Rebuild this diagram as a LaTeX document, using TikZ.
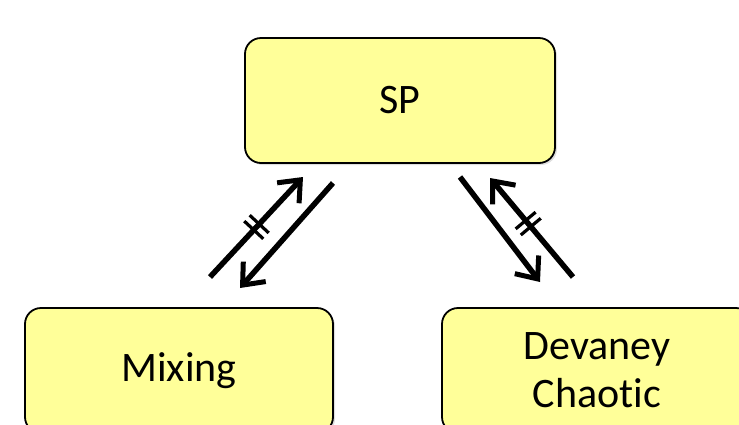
\documentclass[tikz,border=0pt]{standalone}
\usepackage{fontspec}
\setmainfont{Carlito}[Ligatures=NoCommon]
\definecolor{boxfill}{RGB}{255, 255, 153}
\usetikzlibrary{arrows.meta, decorations.markings, shadows}
\tikzset{
    notion/.style={draw, line width=1.8pt, fill=boxfill, rounded corners=16pt,
        minimum width=310pt, minimum height=125pt, align=center,
        font=\fontsize{42}{48}\selectfont,
        drop shadow={opacity=.25, shadow xshift=2pt, shadow yshift=-2pt}},
    implies/.style={line width=5.5pt,
        -{Straight Barb[length=18pt, width=30pt, line width=5pt]}},
    notimplies/.style={implies, postaction={decorate, decoration={markings,
        mark=at position #1 with {\draw[-, line width=3.2pt]
            (-4pt, -13pt) -- (-4pt, 13pt) (4pt, -13pt) -- (4pt, 13pt);}}}},
    notimplies/.default=.55,
}

\begin{document}
\begin{tikzpicture}[x=1pt, y=-1pt]
        \useasboundingbox (0, 0) rectangle (739, 424);
        \clip (0, 0) rectangle (739, 424);
        \node[notion] (sp) at (400, 100.5) {SP};
        \node[notion, minimum width=308pt] (mixing) at (179, 370.5) {Mixing};
        \node[notion] (devaney) at (597, 370.5) {Devaney\\Chaotic};
        % end points of the arrows
        \coordinate (mixtail) at (210, 277);
        \coordinate (mixtip) at (303, 177);
        \coordinate (sptail) at (333, 183);
        \coordinate (sptip) at (240, 288);
        \coordinate (spdtail) at (460, 177);
        \coordinate (spdtip) at (540, 282);
        \coordinate (devtail) at (573, 277);
        \coordinate (devtip) at (490, 178);
        \draw[notimplies=.5] (mixtail) -- (mixtip);
        \draw[implies] (sptail) -- (sptip);
        \draw[implies] (spdtail) -- (spdtip);
        \draw[notimplies=.54] (devtail) -- (devtip);
    \end{tikzpicture}
\end{document}
